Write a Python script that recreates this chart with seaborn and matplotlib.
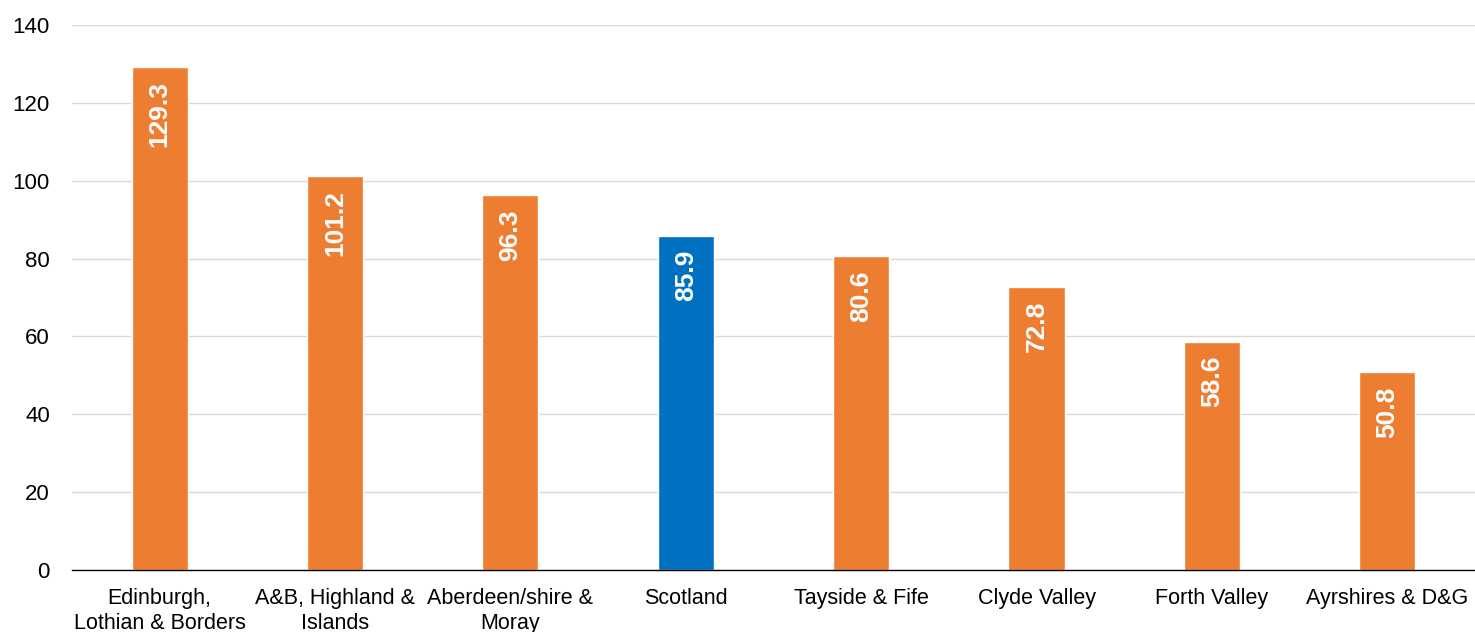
import matplotlib
matplotlib.use("Agg")
import matplotlib.pyplot as plt
import seaborn as sns
import pandas as pd
import numpy as np

regions = [
    "Edinburgh,\nLothian & Borders",
    "A&B, Highland &\nIslands",
    "Aberdeen/shire &\nMoray",
    "Scotland",
    "Tayside & Fife",
    "Clyde Valley",
    "Forth Valley",
    "Ayrshires & D&G",
]
values = [129.3, 101.2, 96.3, 85.9, 80.6, 72.8, 58.6, 50.8]
highlight = "Scotland"

ORANGE = "#ED7D31"
BLUE = "#0070C0"

sns.set_theme(style="white")
plt.rcParams["font.family"] = ["Liberation Sans", "DejaVu Sans"]

df = pd.DataFrame({"region": regions, "value": values})
palette = {r: (BLUE if r == highlight else ORANGE) for r in regions}

fig = plt.figure(figsize=(14.75, 6.32), dpi=100)
ax = fig.add_axes([0.0488, 0.0981, 0.9512, 0.8623])

sns.barplot(data=df, x="region", y="value", hue="region", palette=palette,
            width=0.32, legend=False, saturation=1, ax=ax)

ax.set_ylim(0, 140)
ax.set_xlim(-0.5, len(regions) - 0.5)
ax.set_yticks(np.arange(0, 141, 20))
ax.yaxis.grid(True, color="#D9D9D9", linewidth=1)
ax.set_axisbelow(True)
ax.set_xlabel("")
ax.set_ylabel("")

for side in ["top", "right", "left"]:
    ax.spines[side].set_visible(False)
ax.spines["bottom"].set_color("black")
ax.spines["bottom"].set_linewidth(1)

ax.tick_params(axis="y", length=0, labelsize=16, colors="black", pad=16)
ax.tick_params(axis="x", which="major", length=0, labelsize=15.5, colors="black", pad=13)
ax.set_xticks(np.arange(-0.5, len(regions), 1.0), minor=True)
ax.tick_params(axis="x", which="minor", length=5, width=1, color="black", direction="out")
for lbl in ax.get_xticklabels():
    lbl.set_linespacing(1.25)

for i, v in enumerate(values):
    ax.annotate(f"{v:.1f}", xy=(i, v), xytext=(0, -10), textcoords="offset points",
                rotation=90, ha="center", va="top", color="white",
                fontsize=19, fontweight="bold")

fig.savefig("out.png", dpi=100)
